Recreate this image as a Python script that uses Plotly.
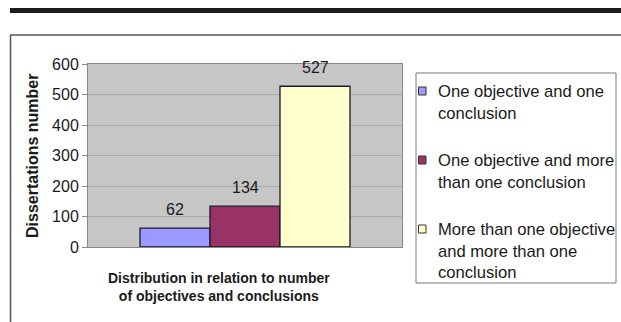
import plotly.graph_objects as go

# ---- data ----
group_label = ["Distribution in relation to number", "of objectives and conclusions"]
series_names = [
    "One objective and one<br>conclusion",
    "One objective and more<br>than one conclusion",
    "More than one objective<br>and more than one<br>conclusion",
]
series_keys = ["s1", "s2", "s3"]
values = [62, 134, 527]
colors = ["#9999FF", "#993366", "#FFFFCC"]
y_ticks = [0, 100, 200, 300, 400, 500, 600]
y_title = "Dissertations number"

W, H = 621, 322
ML, MR, MT, MB = 88, 219, 64, 75
PW, PH = W - ML - MR, H - MT - MB


def xp(px):
    return (px - ML) / PW


def yp(py):
    return (H - MB - py) / PH


FONT = "Liberation Sans, Arial, sans-serif"

fig = go.Figure()
for k, v, c in zip(series_keys, values, colors):
    fig.add_trace(go.Bar(
        x=[k], y=[v], width=1,
        marker=dict(color=c, line=dict(color="#1a1a2a", width=1.3)),
        showlegend=False, hoverinfo="y",
    ))

annotations = []
for k, v in zip(series_keys, values):
    annotations.append(dict(
        x=k, y=v, xref="x", yref="y", text=str(v), showarrow=False,
        yanchor="middle", yshift=19, font=dict(family=FONT, size=16, color="#1a1a1a")))

# axis titles
annotations.append(dict(
    x=xp(32), y=yp(156), xref="paper", yref="paper", text=y_title,
    textangle=-90, showarrow=False, xanchor="center", yanchor="middle",
    font=dict(family=FONT, size=16, color="#1a1a1a", weight="bold")))
annotations.append(dict(
    x=xp(219), y=yp(287), xref="paper", yref="paper", text="<br>".join(group_label),
    showarrow=False, xanchor="center", yanchor="middle",
    font=dict(family=FONT, size=14, color="#1a1a1a", weight="bold")))

shapes = []
# top black rule
shapes.append(dict(type="rect", xref="paper", yref="paper",
                   x0=xp(10), x1=xp(625), y0=yp(13), y1=yp(8),
                   fillcolor="#1e1e1e", line=dict(width=0), layer="above"))
# outer frame (top and left)
shapes.append(dict(type="line", xref="paper", yref="paper",
                   x0=xp(10), x1=xp(625), y0=yp(35), y1=yp(35),
                   line=dict(color="#555", width=1.5)))
shapes.append(dict(type="line", xref="paper", yref="paper",
                   x0=xp(10.5), x1=xp(10.5), y0=yp(35), y1=yp(330),
                   line=dict(color="#555", width=1.5)))
# legend box
shapes.append(dict(type="rect", xref="paper", yref="paper",
                   x0=xp(416), x1=xp(616), y0=yp(283), y1=yp(73),
                   fillcolor="white", line=dict(color="#777", width=1)))
leg_tops = [91, 160, 229]
for name, c, yt in zip(series_names, colors, leg_tops):
    shapes.append(dict(type="rect", xref="paper", yref="paper",
                       x0=xp(418.5), x1=xp(426), y0=yp(yt + 4), y1=yp(yt - 4),
                       fillcolor=c, line=dict(color="#333", width=1)))
    annotations.append(dict(
        x=xp(436), y=yp(yt - 11.5), xref="paper", yref="paper", text=name,
        showarrow=False, xanchor="left", yanchor="top", align="left",
        font=dict(family=FONT, size=16.6, color="#1a1a1a")))

fig.update_layout(
    width=W, height=H,
    margin=dict(l=ML, r=MR, t=MT, b=MB, pad=0),
    paper_bgcolor="white", plot_bgcolor="#c6c6c6",
    barmode="overlay",
    xaxis=dict(type="category", range=[-1.243, 3.243], showticklabels=False,
               showgrid=False, showline=True, linecolor="#888", linewidth=1,
               mirror=True, zeroline=False, fixedrange=True),
    yaxis=dict(range=[0, 600], tickvals=y_ticks, showgrid=True,
               gridcolor="#a9a9a9", gridwidth=1, showline=True,
               linecolor="#888", linewidth=1, mirror=True, zeroline=False,
               ticks="outside", ticklen=5, tickcolor="#888",
               tickfont=dict(family=FONT, size=16, color="#1a1a1a"),
               fixedrange=True),
    shapes=shapes, annotations=annotations,
    showlegend=False,
)

fig.write_html("out.html", config={"displayModeBar": False})
